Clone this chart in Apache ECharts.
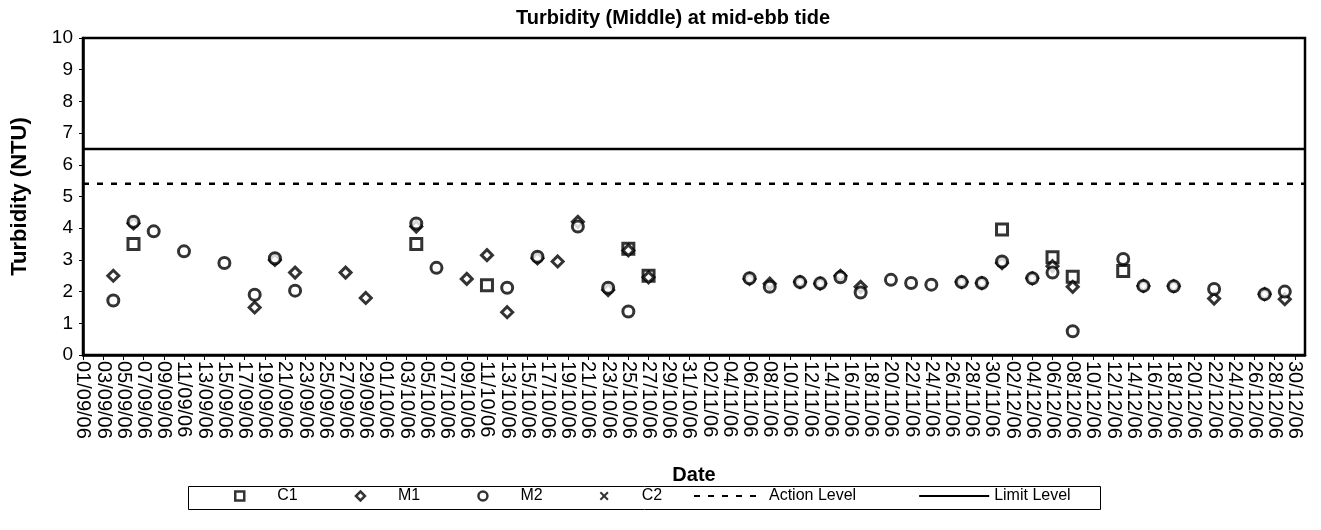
<!DOCTYPE html>
<html>
<head>
<meta charset="utf-8">
<script src="https://cdn.jsdelivr.net/npm/echarts@6/dist/echarts.min.js"></script>
<style>
  html, body { margin: 0; padding: 0; background: #fff; }
  #chart { width: 1321px; height: 530px; }
</style>
</head>
<body>
<div id="chart"></div>
<script>
// daily categories 01/09/06 .. 31/12/06
var monthDays = [[9, 30], [10, 31], [11, 30], [12, 31]];
var dates = [];
monthDays.forEach(function (m) {
  for (var d = 1; d <= m[1]; d++) {
    dates.push((d < 10 ? '0' : '') + d + '/' + (m[0] < 10 ? '0' : '') + m[0] + '/06');
  }
});

var ACTION_LEVEL = 5.4;
var LIMIT_LEVEL = 6.5;

var c1Data = [
  ['06/09/06', 3.5], ['04/10/06', 3.5], ['11/10/06', 2.2], ['25/10/06', 3.35],
  ['27/10/06', 2.5], ['01/12/06', 3.96], ['06/12/06', 3.08], ['08/12/06', 2.47],
  ['13/12/06', 2.65]
];
var m1Data = [
  ['04/09/06', 2.5], ['06/09/06', 4.15], ['18/09/06', 1.5], ['20/09/06', 3.0],
  ['22/09/06', 2.6], ['27/09/06', 2.6], ['29/09/06', 1.8], ['04/10/06', 4.05],
  ['09/10/06', 2.4], ['11/10/06', 3.15], ['13/10/06', 1.35], ['16/10/06', 3.05],
  ['18/10/06', 2.95], ['20/10/06', 4.2], ['23/10/06', 2.05], ['25/10/06', 3.3],
  ['27/10/06', 2.45], ['06/11/06', 2.4], ['08/11/06', 2.25], ['11/11/06', 2.3],
  ['13/11/06', 2.25], ['15/11/06', 2.5], ['17/11/06', 2.15], ['27/11/06', 2.3],
  ['29/11/06', 2.27], ['01/12/06', 2.9], ['04/12/06', 2.42], ['06/12/06', 2.8],
  ['08/12/06', 2.15], ['15/12/06', 2.18], ['18/12/06', 2.17], ['22/12/06', 1.78],
  ['27/12/06', 1.92], ['29/12/06', 1.76]
];
var m2Data = [
  ['04/09/06', 1.72], ['06/09/06', 4.2], ['08/09/06', 3.9], ['11/09/06', 3.27],
  ['15/09/06', 2.9], ['18/09/06', 1.9], ['20/09/06', 3.05], ['22/09/06', 2.03],
  ['04/10/06', 4.15], ['06/10/06', 2.75], ['13/10/06', 2.12], ['16/10/06', 3.1],
  ['20/10/06', 4.05], ['23/10/06', 2.12], ['25/10/06', 1.37], ['06/11/06', 2.42],
  ['08/11/06', 2.15], ['11/11/06', 2.3], ['13/11/06', 2.26], ['15/11/06', 2.45],
  ['17/11/06', 1.97], ['20/11/06', 2.37], ['22/11/06', 2.27], ['24/11/06', 2.22],
  ['27/11/06', 2.3], ['29/11/06', 2.27], ['01/12/06', 2.95], ['04/12/06', 2.42],
  ['06/12/06', 2.6], ['08/12/06', 0.75], ['13/12/06', 3.03], ['15/12/06', 2.18],
  ['18/12/06', 2.17], ['22/12/06', 2.08], ['27/12/06', 1.92], ['29/12/06', 2.0]
];
var c2Data = [];

var FONT = '"Liberation Sans", Arial, sans-serif';
var X_ICON = 'path://M0,1.6 L1.6,0 L5,3.4 L8.4,0 L10,1.6 L6.6,5 L10,8.4 L8.4,10 L5,6.6 L1.6,10 L0,8.4 L3.4,5 Z';

var chart = echarts.init(document.getElementById('chart'));

function markerSeries(name, symbol, data) {
  return {
    name: name,
    type: 'scatter',
    symbol: symbol,
    symbolSize: 11,
    data: data,
    itemStyle: { color: '#fff', borderColor: '#000', borderWidth: 3 }
  };
}

var legendText = { fontFamily: FONT, fontSize: 16, color: '#000' };
var legendMark = { color: '#fff', borderColor: '#000', borderWidth: 2.5 };

chart.setOption({
  animation: false,
  title: {
    text: 'Turbidity (Middle) at mid-ebb tide',
    left: 668,
    textAlign: 'center',
    top: 3,
    textStyle: { fontFamily: FONT, fontSize: 20, fontWeight: 'bold', color: '#000' }
  },
  grid: {
    left: 83, right: 16, top: 38, bottom: 175,
    show: true, borderColor: '#000', borderWidth: 2.5, backgroundColor: 'transparent'
  },
  graphic: [{
    type: 'rect', left: 186, top: 484,
    shape: { width: 912, height: 23 },
    style: { fill: 'none', stroke: '#000', lineWidth: 1 }
  }],
  legend: [{
    left: 234, top: 488, padding: 0,
    itemWidth: 9, itemHeight: 9, itemGap: 57,
    textStyle: Object.assign({ padding: [0, 0, 0, 28] }, legendText),
    data: [
      { name: 'C1', itemStyle: legendMark },
      { name: 'M1', itemStyle: legendMark },
      { name: 'M2', itemStyle: legendMark },
      { name: 'C2' }
    ]
  }, {
    left: 693, top: 488, padding: 0,
    itemWidth: 70, itemHeight: 10, itemGap: 62,
    textStyle: legendText,
    data: [
      { name: 'Action Level', itemStyle: { opacity: 0 } },
      { name: 'Limit Level', itemStyle: { opacity: 0 } }
    ]
  }],
  xAxis: {
    type: 'category',
    data: dates,
    boundaryGap: false,
    name: 'Date',
    nameLocation: 'middle',
    nameGap: 110,
    nameTextStyle: { fontFamily: FONT, fontSize: 20, fontWeight: 'bold', color: '#000' },
    axisLine: { lineStyle: { color: '#000', width: 2.5 } },
    axisTick: { interval: 1, length: 5, lineStyle: { color: '#000' } },
    axisLabel: {
      interval: 1, rotate: -90, margin: 6,
      fontFamily: FONT, fontSize: 20, color: '#000'
    },
    splitLine: { show: false }
  },
  yAxis: {
    type: 'value',
    min: 0, max: 10, interval: 1,
    name: 'Turbidity (NTU)',
    nameLocation: 'middle',
    nameGap: 52,
    nameTextStyle: { fontFamily: FONT, fontSize: 22, fontWeight: 'bold', color: '#000' },
    axisLine: { show: true, lineStyle: { color: '#000', width: 2.5 } },
    axisTick: { show: true, length: 4, lineStyle: { color: '#000' } },
    axisLabel: { fontFamily: FONT, fontSize: 19, color: '#000', margin: 10 },
    splitLine: { show: false }
  },
  series: [
    markerSeries('C1', 'rect', c1Data),
    markerSeries('M1', 'diamond', m1Data),
    markerSeries('M2', 'circle', m2Data),
    {
      name: 'C2', type: 'scatter', symbol: X_ICON, symbolSize: 11,
      data: c2Data, itemStyle: { color: '#000' }
    },
    {
      name: 'Action Level', type: 'line', symbol: 'none',
      data: [[dates[0], ACTION_LEVEL], [dates[dates.length - 1], ACTION_LEVEL]],
      lineStyle: { color: '#000', width: 2.5, type: [6, 8] },
      itemStyle: { color: '#000' }
    },
    {
      name: 'Limit Level', type: 'line', symbol: 'none',
      data: [[dates[0], LIMIT_LEVEL], [dates[dates.length - 1], LIMIT_LEVEL]],
      lineStyle: { color: '#000', width: 2.5 },
      itemStyle: { color: '#000' }
    }
  ]
});
</script>
</body>
</html>
